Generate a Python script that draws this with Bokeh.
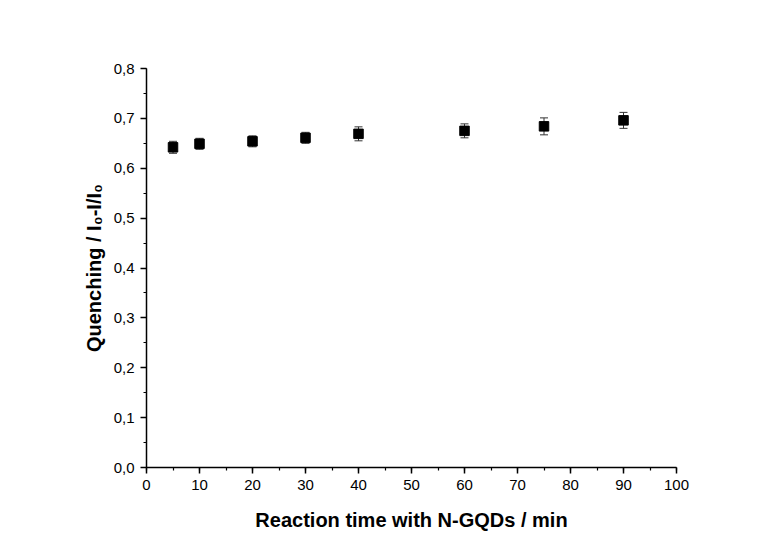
from bokeh.plotting import figure
from bokeh.models import ColumnDataSource, Whisker, TeeHead, CustomJSTickFormatter, FixedTicker, Range1d
from bokeh.embed import file_html
from bokeh.resources import INLINE

time_min = [5, 10, 20, 30, 40, 60, 75, 90]
quenching = [0.642, 0.649, 0.654, 0.661, 0.669, 0.675, 0.684, 0.696]
error = [0.012, 0.011, 0.011, 0.011, 0.014, 0.014, 0.017, 0.016]

upper = [q + e for q, e in zip(quenching, error)]
lower = [q - e for q, e in zip(quenching, error)]
src = ColumnDataSource(dict(x=time_min, y=quenching, upper=upper, lower=lower))

p = figure(width=761, height=545, output_backend="svg", toolbar_location=None,
           x_range=Range1d(0, 100), y_range=Range1d(0, 0.8),
           min_border_left=146, min_border_right=85, min_border_top=68, min_border_bottom=78)
p.background_fill_color = "white"
p.border_fill_color = "white"
p.outline_line_color = None
p.grid.visible = False

w = Whisker(source=src, base="x", upper="upper", lower="lower",
            line_color="#333333", line_width=1,
            upper_head=TeeHead(size=8, line_color="#333333", line_width=1),
            lower_head=TeeHead(size=8, line_color="#333333", line_width=1))
p.add_layout(w)
p.scatter("x", "y", source=src, marker="square", size=9.5, fill_color="black", line_color="black")

for ax in (p.xaxis[0], p.yaxis[0]):
    ax.axis_line_width = 1.5
    ax.axis_line_color = "black"
    ax.major_tick_line_color = "black"
    ax.minor_tick_line_color = "black"
    ax.major_tick_line_width = 1.5
    ax.minor_tick_line_width = 1.2
    ax.major_tick_out = 6
    ax.major_tick_in = 0
    ax.minor_tick_out = 3
    ax.minor_tick_in = 0
    ax.major_label_text_font = "Liberation Sans"
    ax.major_label_text_font_size = "15px"
    ax.major_label_text_color = "black"
    ax.axis_label_text_font = "Liberation Sans"
    ax.axis_label_text_font_style = "bold"
    ax.axis_label_text_font_size = "20px"
    ax.axis_label_text_color = "black"

p.xaxis.ticker = FixedTicker(ticks=list(range(0, 101, 10)), minor_ticks=list(range(0, 101, 5)))
p.yaxis.ticker = FixedTicker(ticks=[i / 10 for i in range(9)], minor_ticks=[i / 20 for i in range(17)])
p.yaxis.formatter = CustomJSTickFormatter(code="return tick.toFixed(1).replace('.', ',');")
p.xaxis.axis_label = "Reaction time with N-GQDs / min"
p.yaxis.axis_label = "Quenching / I\u2080-I/I\u2080"
p.xaxis.major_label_standoff = 6
p.yaxis.major_label_standoff = 6
p.xaxis.axis_label_standoff = 16
p.yaxis.axis_label_standoff = 6

open("out.html", "w").write(file_html(p, INLINE))
